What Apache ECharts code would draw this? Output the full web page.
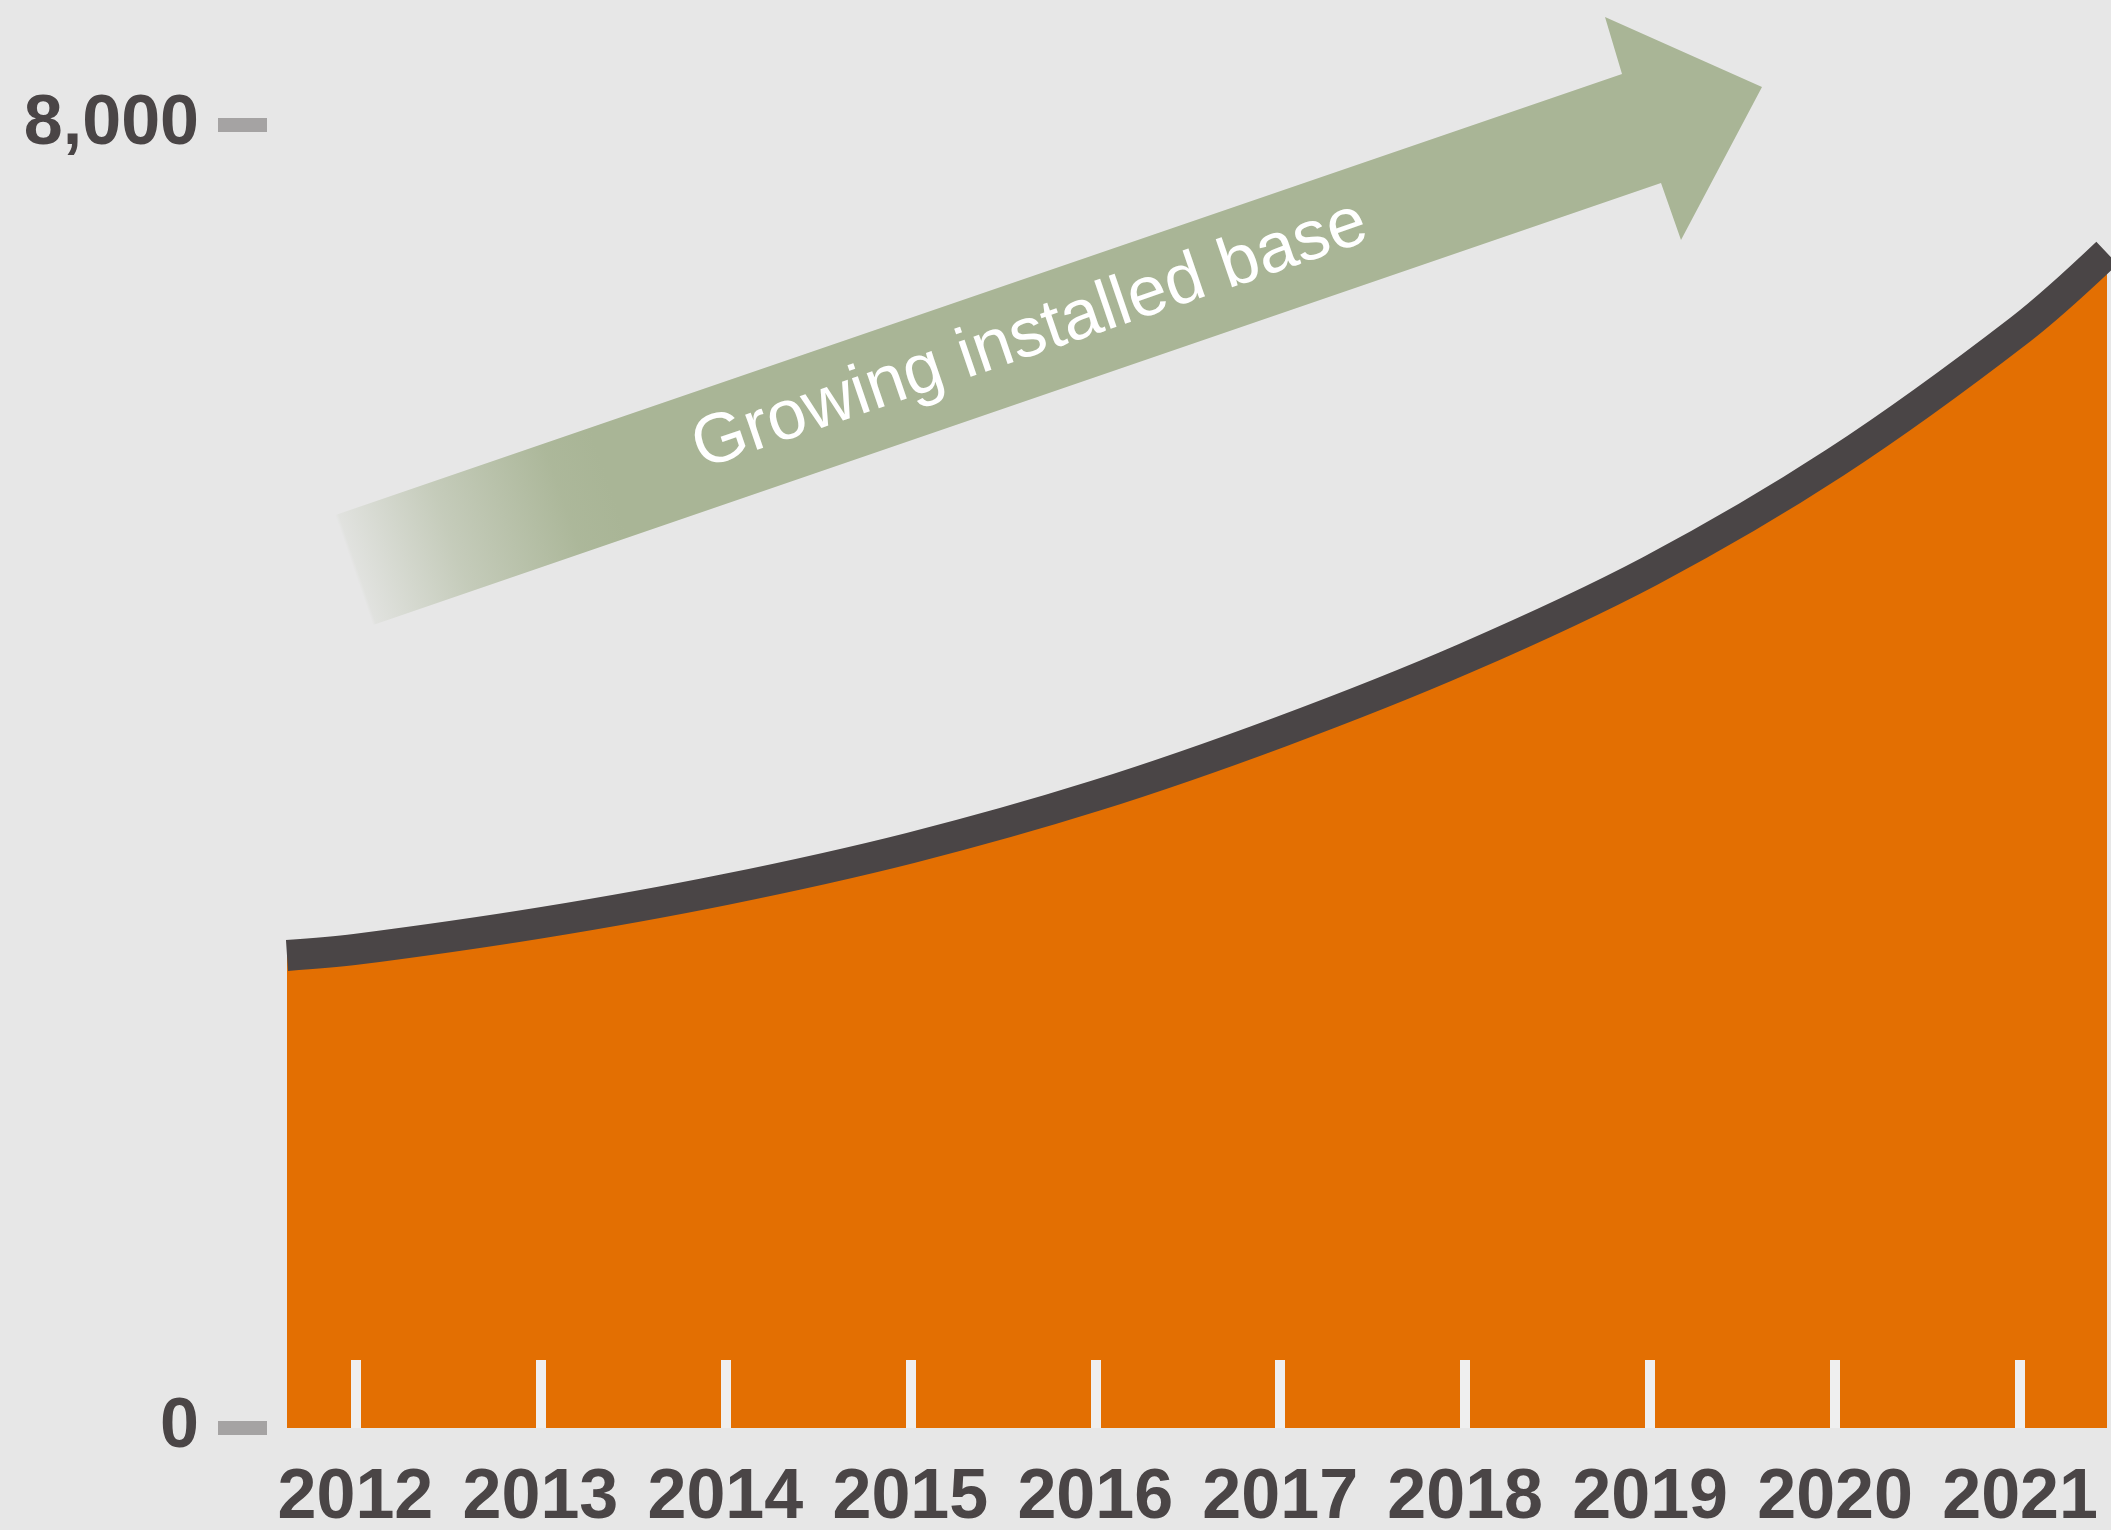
<!DOCTYPE html>
<html>
<head>
<meta charset="utf-8">
<script src="https://cdn.jsdelivr.net/npm/echarts@6/dist/echarts.min.js"></script>
<style>
  html, body { margin: 0; padding: 0; background: #e7e7e7; }
  #chart { width: 2111px; height: 1530px; }
</style>
</head>
<body>
<div id="chart"></div>
<script>
// years shown on the x axis
const years = [2012, 2013, 2014, 2015, 2016, 2017, 2018, 2019, 2020, 2021];
// curve samples: x in years (first/last are where the curve starts and ends), y = installed base
const curveX = [2011.63, 2012, 2013, 2014, 2015, 2016, 2017, 2018, 2019, 2020, 2021, 2021.47];
const curveY = [2900, 2937, 3100, 3305, 3560, 3880, 4272, 4725, 5260, 5925, 6740, 7211];
// y axis ticks
const yTicks = [0, 8000];
const arrowLabel = 'Growing installed base';

const chart = echarts.init(document.getElementById('chart'));

// arrow decoration, faded towards the left
const sage = (a) => 'rgba(169,181,150,' + a + ')';
const arrowFill = new echarts.graphic.LinearGradient(0, 692, 662, 465, [
  { offset: 0, color: sage(0) },
  { offset: 0.535, color: sage(0) },
  { offset: 0.54, color: sage(0.1) },
  { offset: 0.68, color: sage(0.55) },
  { offset: 0.85, color: sage(0.95) },
  { offset: 0.92, color: sage(1) },
  { offset: 1, color: sage(1) }
], true);

const option = {
  backgroundColor: '#e7e7e7',
  animation: false,
  grid: { left: 287, right: 4, top: 124.5, bottom: 102, outerBoundsMode: 'none', containLabel: false },
  xAxis: {
    type: 'value',
    min: curveX[0],
    max: curveX[curveX.length - 1],
    z: 10,
    splitLine: { show: false },
    axisLine: { show: false },
    axisTick: {
      show: true,
      inside: true,
      length: 68,
      customValues: years,
      lineStyle: { color: '#efefef', width: 10 }
    },
    axisLabel: {
      customValues: years,
      margin: 36,
      color: '#4a4546',
      fontFamily: 'Liberation Sans',
      fontWeight: 'bold',
      fontSize: 70,
      formatter: (v) => String(v)
    }
  },
  yAxis: {
    type: 'value',
    min: yTicks[0],
    max: yTicks[1],
    interval: yTicks[1],
    offset: 20,
    splitLine: { show: false },
    axisLine: { show: false },
    axisTick: {
      show: true,
      length: 49,
      lineStyle: { color: '#a5a3a3', width: 14 }
    },
    axisLabel: {
      margin: 68,
      color: '#4a4546',
      fontFamily: 'Liberation Sans',
      fontWeight: 'bold',
      fontSize: 70,
      padding: [10, 0, 0, 0],
      formatter: (v) => v.toLocaleString('en-US')
    }
  },
  graphic: [
    {
      type: 'polygon',
      z: 1,
      shape: {
        points: [[0, 630], [1622, 74], [1605, 17], [1762, 87], [1681, 240], [1661, 183], [0, 753]]
      },
      style: { fill: arrowFill }
    },
    {
      type: 'text',
      z: 2,
      x: 1030,
      y: 336,
      rotation: 0.33,
      style: {
        text: arrowLabel,
        fill: '#ffffff',
        font: '70px "Liberation Sans", Arial, sans-serif',
        textAlign: 'center',
        textVerticalAlign: 'middle'
      }
    }
  ],
  series: [
    {
      type: 'line',
      data: curveX.map((x, i) => [x, curveY[i]]),
      smooth: 0.35,
      showSymbol: false,
      clip: false,
      lineStyle: { color: '#4a4546', width: 31, cap: 'butt' },
      areaStyle: { color: '#e36f02', opacity: 1 },
      z: 2
    }
  ]
};

chart.setOption(option);
window.addEventListener('resize', () => chart.resize());
</script>
</body>
</html>
